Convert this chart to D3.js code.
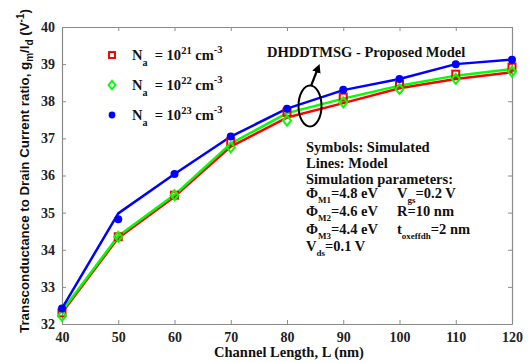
<!DOCTYPE html>
<html><head><meta charset="utf-8">
<script src="https://cdn.jsdelivr.net/npm/d3@7"></script>
<style>body{margin:0;background:#fff}svg{display:block}</style>
</head><body>
<script>
const lengths = [40, 50, 60, 70, 80, 90, 100, 110, 120];
const redModel   = [32.30, 34.32, 35.43, 36.78, 37.56, 37.95, 38.35, 38.60, 38.78];
const redSim     = [32.30, 34.35, 35.47, 36.91, 37.70, 38.11, 38.47, 38.73, 38.92];
const greenModel = [32.35, 34.37, 35.48, 36.86, 37.68, 38.07, 38.42, 38.69, 38.87];
const greenSim   = [32.22, 34.35, 35.47, 36.76, 37.48, 37.97, 38.33, 38.60, 38.80];
const blueModel  = [32.42, 34.98, 36.04, 37.05, 37.80, 38.30, 38.60, 39.00, 39.12];
const blueSim    = [32.42, 34.82, 36.04, 37.05, 37.80, 38.31, 38.60, 39.00, 39.12];
const xTicks = [40, 50, 60, 70, 80, 90, 100, 110, 120];
const yTicks = [32, 33, 34, 35, 36, 37, 38, 39, 40];
const legendExp = ["21", "22", "23"];

const W = 529, H = 362;
const m = {l: 62, r: 17, t: 27, b: 38};
const svg = d3.select("body").append("svg").attr("width", W).attr("height", H);
const x = d3.scaleLinear().domain([40, 120]).range([m.l, W - m.r]);
const y = d3.scaleLinear().domain([32, 40]).range([H - m.b, m.t]);
const serif = "'Liberation Serif','Times New Roman',serif";
const sans = "'Liberation Sans',Arial,sans-serif";
const axisCol = "#8a8a8a";

function styleAxis(g) {
  g.select(".domain").attr("stroke", axisCol).attr("stroke-width", 1.2);
  g.selectAll(".tick line").attr("stroke", axisCol);
  g.selectAll(".tick text").attr("font-family", serif).attr("font-weight", "bold")
    .attr("font-size", 14).attr("fill", "#222");
}
svg.append("g").attr("transform", `translate(0,${y(32)})`)
  .call(d3.axisBottom(x).tickValues(xTicks).tickSize(-4).tickPadding(8).tickSizeOuter(0))
  .call(styleAxis);
svg.append("g").attr("transform", `translate(${x(40)},0)`)
  .call(d3.axisLeft(y).tickValues(yTicks).tickSize(-4).tickPadding(7).tickSizeOuter(0))
  .call(styleAxis);
svg.append("g").attr("transform", `translate(0,${y(40)})`)
  .call(d3.axisTop(x).tickValues(xTicks).tickSize(-4).tickFormat("").tickSizeOuter(0))
  .call(styleAxis);
svg.append("g").attr("transform", `translate(${x(120)},0)`)
  .call(d3.axisRight(y).tickValues(yTicks).tickSize(-4).tickFormat("").tickSizeOuter(0))
  .call(styleAxis);

const line = d3.line().x((d, i) => x(lengths[i])).y(d => y(d));
const series = [
  {model: redModel, sim: redSim, color: "#ff0000", type: "square"},
  {model: greenModel, sim: greenSim, color: "#00ff00", type: "diamond"},
  {model: blueModel, sim: blueSim, color: "#0000ff", type: "circle"}
];
series.forEach(s => {
  svg.append("path").datum(s.model).attr("d", line).attr("fill", "none")
    .attr("stroke", s.color).attr("stroke-width", 2.5).attr("stroke-linejoin", "round");
});
function marker(g, type, color, cx, cy, k) {
  k = k || 1;
  if (type === "square") {
    g.append("rect").attr("x", cx - 3.5 * k).attr("y", cy - 3.5 * k).attr("width", 7 * k).attr("height", 7 * k)
      .attr("fill", "none").attr("stroke", color).attr("stroke-width", 2);
  } else if (type === "diamond") {
    g.append("path").attr("d", `M${cx},${cy-5*k}L${cx+4*k},${cy}L${cx},${cy+5*k}L${cx-4*k},${cy}Z`)
      .attr("fill", "none").attr("stroke", color).attr("stroke-width", 2);
  } else {
    g.append("circle").attr("cx", cx).attr("cy", cy).attr("r", 4 * k).attr("fill", color);
  }
}
series.forEach(s => {
  const g = svg.append("g");
  s.sim.forEach((v, i) => marker(g, s.type, s.color, x(lengths[i]), y(v)));
});

// legend
series.forEach((s, i) => {
  const ly = 55 + i * 30;
  marker(svg, s.type, s.color, 112, ly, 0.85);
  const t = svg.append("text").attr("x", 132).attr("y", ly + 5)
    .attr("font-family", serif).attr("font-weight", "bold").attr("font-size", 14.5).attr("fill", "#111")
    .attr("xml:space", "preserve");
  t.append("tspan").text("N");
  t.append("tspan").attr("dy", 6).attr("font-size", 10).text("a");
  t.append("tspan").attr("dy", -6).text("  = 10");
  t.append("tspan").attr("dy", -6).attr("font-size", 10.5).text(legendExp[i]);
  t.append("tspan").attr("dy", 6).text(" cm");
  t.append("tspan").attr("dy", -7).attr("font-size", 10.5).text("-3");
});

// annotation
svg.append("text").attr("x", 267).attr("y", 57).attr("font-family", serif)
  .attr("font-weight", "bold").attr("font-size", 14.5).attr("fill", "#111").text("DHDDTMSG - Proposed Model");
svg.append("ellipse").attr("cx", 310).attr("cy", 106).attr("rx", 11.5).attr("ry", 20.5)
  .attr("fill", "none").attr("stroke", "#000").attr("stroke-width", 2);
svg.append("defs").append("marker").attr("id", "ah").attr("viewBox", "0 0 10 10")
  .attr("refX", 5).attr("refY", 5).attr("markerWidth", 4).attr("markerHeight", 4).attr("orient", "auto")
  .append("path").attr("d", "M0,0L10,5L0,10Z").attr("fill", "#000");
svg.append("line").attr("x1", 311).attr("y1", 86).attr("x2", 318).attr("y2", 68)
  .attr("stroke", "#000").attr("stroke-width", 2.2).attr("marker-end", "url(#ah)");

// parameter text
const tb = svg.append("g").attr("font-family", serif).attr("font-weight", "bold")
  .attr("font-size", 14.5).attr("fill", "#111");
tb.append("text").attr("x", 306).attr("y", 152).text("Symbols: Simulated");
tb.append("text").attr("x", 306).attr("y", 168).text("Lines: Model");
tb.append("text").attr("x", 306).attr("y", 184).text("Simulation parameters:");
function subText(xx, yy, base, sub, rest) {
  const t = tb.append("text").attr("x", xx).attr("y", yy);
  t.append("tspan").text(base);
  t.append("tspan").attr("dy", 5).attr("font-size", 9).text(sub);
  t.append("tspan").attr("dy", -5).text(rest);
}
subText(306, 198, "\u03A6", "M1", "=4.8 eV");
subText(306, 216, "\u03A6", "M2", "=4.6 eV");
subText(306, 234, "\u03A6", "M3", "=4.4 eV");
subText(306, 251, "V", "ds", "=0.1 V");
subText(397, 198, "V", "gs", "=0.2 V");
tb.append("text").attr("x", 397).attr("y", 216).text("R=10 nm");
subText(397, 234, "t", "oxeffdh", "=2 nm");

// axis titles
svg.append("text").attr("x", 289).attr("y", 357).attr("text-anchor", "middle")
  .attr("font-family", serif).attr("font-weight", "bold").attr("font-size", 14.5).attr("fill", "#111")
  .text("Channel Length, L (nm)");
const yl = svg.append("text").attr("transform", "translate(29,171) rotate(-90)")
  .attr("text-anchor", "middle").attr("font-family", sans).attr("font-weight", "bold")
  .attr("font-size", 13.3).attr("fill", "#111");
yl.append("tspan").text("Transconductance to Drain Current ratio, g");
yl.append("tspan").attr("dy", 4).attr("font-size", 10).text("m");
yl.append("tspan").attr("dy", -4).text("/I");
yl.append("tspan").attr("dy", 4).attr("font-size", 10).text("d");
yl.append("tspan").attr("dy", -4).text(" (V");
yl.append("tspan").attr("dy", -5).attr("font-size", 10).text("-1");
yl.append("tspan").attr("dy", 5).text(")");
</script>
</body></html>
